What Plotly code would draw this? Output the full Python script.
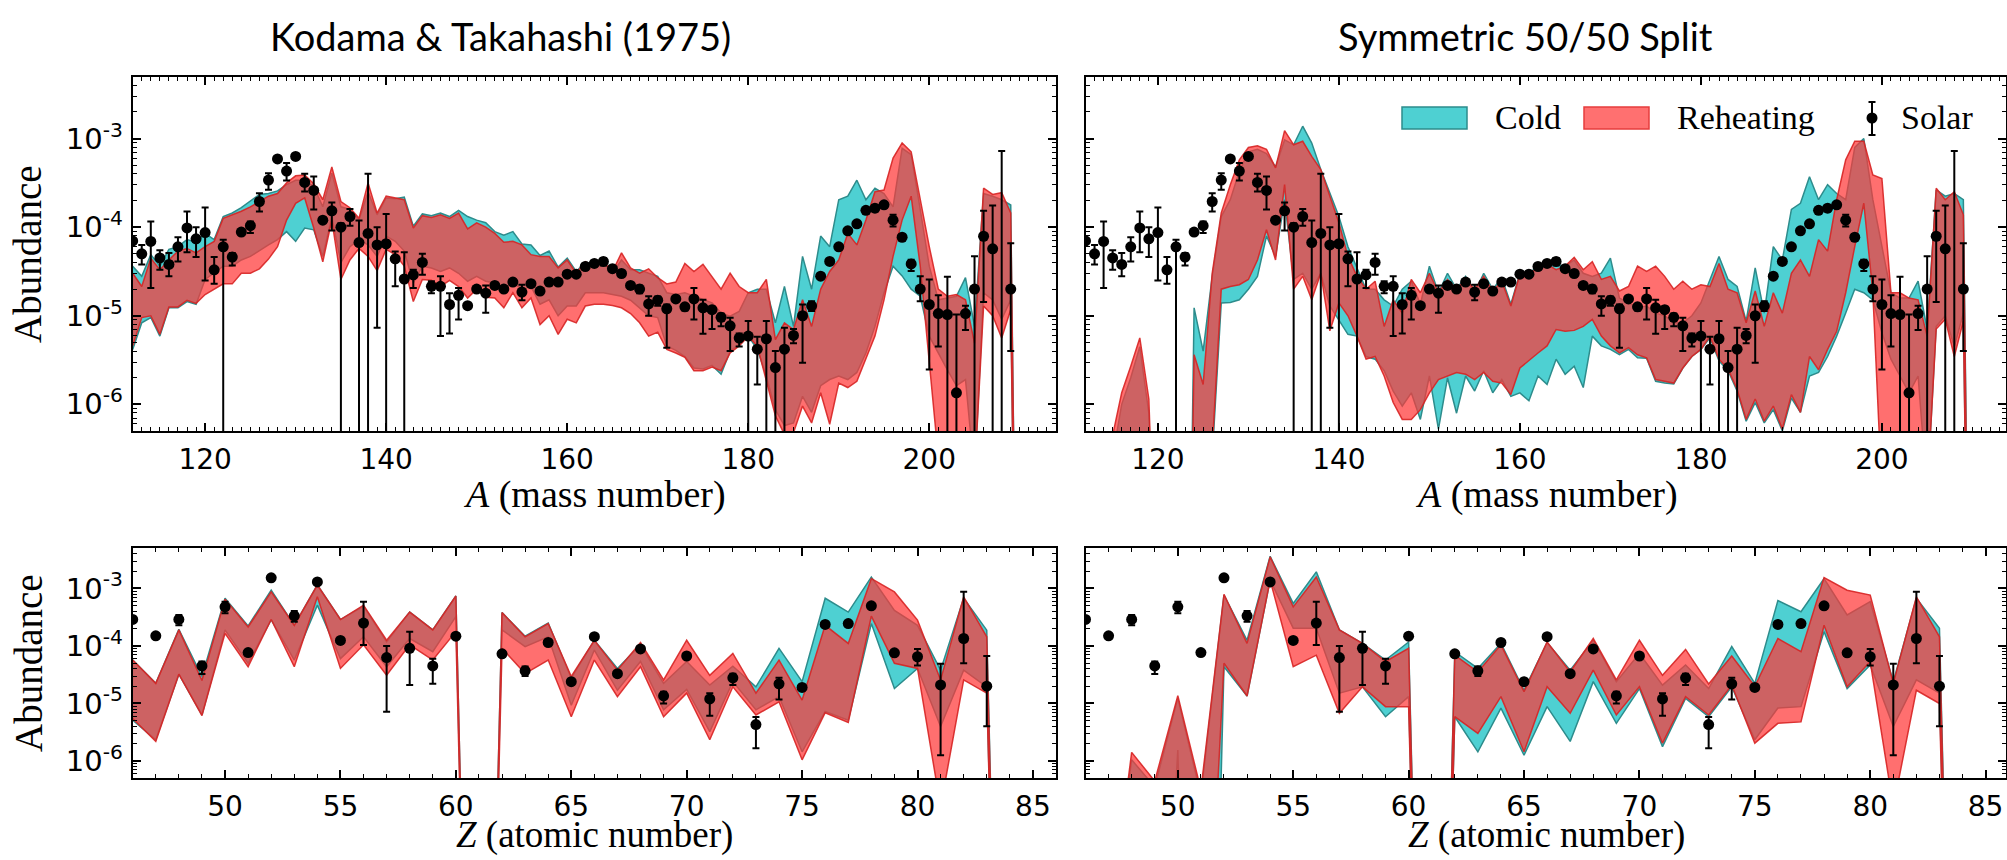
import numpy as np
import plotly.graph_objects as go

# ---------------- data ----------------
mass_A = list(range(112, 211))          # band grid (210 closes the band to zero)
solar_A = list(range(112, 210))
atomic_Z = list(range(46, 85))          # band grid (61 and 84 are empty -> zero)
solar_Z = [46, 47, 48, 49, 50, 51, 52, 53, 54, 55, 56, 57, 58, 59, 60,
           62, 63, 64, 65, 66, 67, 68, 69, 70, 71, 72, 73, 74, 75, 76, 77, 78, 79, 80, 81, 82, 83]

# log10 abundances of the model bands (upper / lower bounds), "Kodama & Takahashi" top panel
kt_A_reheat_hi = [-4.52, -4.67, -4.35, -4.48, -4.37, -4.27, -4.24, -4.29, -4.22, -4.16,
                  -3.90, -3.86, -3.82, -3.77, -3.71, -3.65, -3.62, -3.50, -3.42, -3.41,
                  -3.51, -3.69, -3.32, -3.71, -3.78, -3.90, -3.50, -3.84, -3.65, -3.67,
                  -3.69, -4.01, -3.87, -3.89, -3.86, -3.90, -3.84, -4.02, -3.95, -4.00,
                  -4.07, -4.17, -4.16, -4.20, -4.31, -4.33, -4.33, -4.46, -4.37, -4.52,
                  -4.39, -4.44, -4.39, -4.50, -4.29, -4.46, -4.52, -4.47, -4.57, -4.64,
                  -4.62, -4.41, -4.50, -4.42, -4.555, -4.70, -4.52, -4.67, -4.74, -4.74,
                  -4.59, -5.27, -5.08, -5.155, -4.82, -5.12, -4.70, -4.50, -4.37, -4.07,
                  -4.20, -3.92, -3.60, -3.58, -3.22, -3.05, -3.15, -3.69, -4.22, -4.70,
                  -4.78, -4.76, -4.82, -5.31, -3.56, -3.63, -3.61, -3.84, -12]
kt_A_reheat_lo = [-5.34, -5.02, -5.00, -5.21, -4.90, -4.90, -4.825, -4.86, -4.76, -4.70,
                  -4.64, -4.64, -4.52, -4.52, -4.47, -4.36, -4.22, -3.92, -3.73, -3.67,
                  -4.01, -4.39, -3.92, -4.59, -4.37, -4.24, -4.33, -4.49, -4.25, -4.31,
                  -4.44, -4.84, -4.59, -4.60, -4.67, -4.60, -4.67, -4.80, -4.70, -4.79,
                  -4.80, -4.91, -4.74, -4.91, -4.80, -5.10, -5.00, -5.21, -5.04, -5.08,
                  -4.89, -4.87, -4.87, -4.885, -4.91, -4.975, -5.08, -5.23, -5.185, -5.38,
                  -5.42, -5.47, -5.62, -5.62, -5.58, -5.62, -5.42, -5.34, -5.23, -5.34,
                  -5.72, -6.13, -6.34, -6.32, -6.02, -6.21, -5.87, -6.225, -5.76, -5.81,
                  -5.74, -5.49, -5.23, -4.82, -4.33, -3.92, -3.65, -4.44, -5.49, -6.6,
                  -6.8, -6.8, -6.8, -6.8, -4.89, -5.00, -5.25, -4.93, -12]
kt_A_cold_hi = [-4.44, -4.555, -4.31, -4.44, -4.25, -4.22, -4.14, -4.17, -4.07, -4.14,
                -3.88, -3.84, -3.78, -3.71, -3.63, -3.62, -3.59, -3.52, -3.47, -3.47,
                -3.54, -3.77, -3.39, -3.77, -3.80, -3.92, -3.60, -3.86, -3.67, -3.68,
                -3.66, -3.99, -3.85, -3.87, -3.84, -3.88, -3.81, -3.88, -3.92, -3.95,
                -4.05, -4.09, -4.05, -4.19, -4.20, -4.32, -4.27, -4.45, -4.35, -4.50,
                -4.39, -4.42, -4.40, -4.52, -4.37, -4.48, -4.48, -4.52, -4.555, -4.74,
                -4.76, -4.74, -4.78, -4.82, -4.855, -4.97, -5.005, -4.95, -4.74, -4.70,
                -4.70, -5.08, -4.67, -5.12, -4.33, -4.70, -4.10, -4.22, -3.69, -3.65,
                -3.47, -3.69, -3.56, -3.62, -3.77, -3.11, -3.18, -3.80, -4.44, -4.82,
                -4.80, -4.78, -4.57, -5.12, -3.62, -3.65, -3.69, -3.75, -12]
kt_A_cold_lo = [-5.38, -5.08, -5.02, -5.23, -4.91, -4.91, -4.84, -4.87, -4.59, -4.52,
                -4.44, -4.44, -4.37, -4.33, -4.27, -4.20, -4.14, -4.05, -4.16, -4.01,
                -4.03, -4.33, -3.88, -4.40, -4.22, -4.14, -4.20, -4.33, -4.10, -4.16,
                -4.27, -4.63, -4.44, -4.46, -4.50, -4.46, -4.52, -4.61, -4.555, -4.61,
                -4.63, -4.70, -4.63, -4.70, -4.67, -4.87, -4.82, -5.00, -4.89, -4.89,
                -4.74, -4.74, -4.74, -4.76, -4.78, -4.825, -4.91, -5.00, -5.02, -5.34,
                -5.39, -5.46, -5.59, -5.60, -5.56, -5.66, -5.40, -5.32, -5.23, -5.38,
                -5.68, -6.06, -6.24, -6.21, -5.91, -6.09, -5.79, -5.72, -5.68, -5.72,
                -5.64, -5.42, -5.12, -4.74, -4.44, -4.55, -4.70, -4.78, -5.23, -5.42,
                -5.61, -5.79, -5.72, -6.8, -4.74, -4.82, -5.04, -4.82, -12]

# "Symmetric 50/50 Split" top panel
sym_A_reheat_hi = [-12, -12, -12, -6.35, -5.87, -5.57, -5.25, -5.94, -12, -12,
                   -12, -12, -5.44, -5.775, -4.52, -3.84, -3.52, -3.24, -3.10, -3.08,
                   -3.12, -3.33, -2.91, -3.07, -3.03, -3.20, -3.35, -3.65, -3.95, -4.33,
                   -4.555, -4.70, -4.61, -5.12, -4.82, -4.97, -4.59, -4.74, -4.52, -4.74,
                   -4.59, -4.70, -4.59, -4.70, -4.555, -4.72, -4.61, -4.89, -4.53, -4.555,
                   -4.44, -4.42, -4.48, -4.44, -4.34, -4.48, -4.39, -4.59, -4.555, -4.72,
                   -4.67, -4.44, -4.50, -4.44, -4.555, -4.70, -4.61, -4.70, -4.65, -4.67,
                   -4.41, -4.70, -4.74, -5.08, -4.72, -5.12, -4.74, -4.97, -4.52, -4.37,
                   -4.555, -4.14, -4.27, -3.69, -3.24, -3.03, -3.03, -3.41, -3.45, -4.74,
                   -4.74, -4.80, -4.82, -5.23, -3.56, -3.69, -3.60, -3.86, -12]
sym_A_reheat_lo = [-12, -12, -12, -12, -12, -12, -12, -12, -12, -12,
                   -12, -12, -12, -12, -6.5, -4.70, -4.67, -4.65, -4.59, -4.37,
                   -4.03, -4.37, -3.52, -4.70, -4.555, -4.82, -4.52, -5.17, -4.855, -5.00,
                   -5.23, -5.49, -5.46, -5.68, -5.98, -6.17, -6.17, -6.06, -5.87, -5.72,
                   -5.68, -5.64, -5.66, -5.72, -5.64, -5.74, -5.76, -5.89, -5.59, -5.51,
                   -5.42, -5.34, -5.155, -5.175, -5.165, -5.12, -5.04, -5.23, -5.34, -5.42,
                   -5.36, -5.44, -5.475, -5.72, -5.74, -5.76, -5.59, -5.46, -5.38, -5.23,
                   -5.49, -5.60, -5.83, -6.17, -5.94, -6.19, -6.02, -6.28, -5.89, -6.09,
                   -5.46, -5.61, -5.38, -5.175, -4.74, -4.22, -3.73, -4.74, -7.0, -7.0,
                   -7.0, -7.0, -7.0, -7.0, -5.15, -5.04, -5.46, -5.06, -12]
sym_A_cold_hi = [-12, -12, -12, -6.6, -6.0, -5.7, -5.35, -6.1, -12, -12,
                 -12, -12, -4.91, -5.40, -4.555, -3.88, -3.69, -3.37, -3.15, -3.12,
                 -3.17, -3.32, -3.015, -3.07, -2.86, -3.05, -3.35, -3.62, -3.88, -4.22,
                 -4.46, -4.70, -4.70, -4.82, -4.89, -4.70, -4.61, -4.87, -4.44, -4.74,
                 -4.52, -4.70, -4.555, -4.74, -4.52, -4.70, -4.57, -4.87, -4.52, -4.52,
                 -4.44, -4.40, -4.42, -4.44, -4.37, -4.52, -4.555, -4.52, -4.35, -4.80,
                 -4.855, -4.91, -4.89, -4.97, -5.00, -5.08, -5.08, -5.00, -4.855, -4.59,
                 -4.33, -4.59, -4.67, -5.06, -4.46, -4.97, -4.22, -4.37, -3.80, -3.73,
                 -3.43, -3.69, -3.52, -3.62, -3.69, -3.10, -3.00, -3.69, -4.22, -4.74,
                 -4.80, -4.80, -4.61, -5.155, -3.58, -3.65, -3.62, -3.69, -12]
sym_A_cold_lo = [-12, -12, -12, -12, -12, -12, -12, -12, -12, -12,
                 -12, -12, -12, -12, -6.6, -4.855, -4.85, -4.82, -4.70, -4.555,
                 -4.10, -4.33, -3.69, -4.59, -4.52, -4.70, -4.52, -4.89, -5.05, -5.21,
                 -5.23, -5.46, -5.49, -5.62, -5.85, -6.02, -5.87, -6.17, -5.68, -6.28,
                 -5.70, -6.10, -5.68, -5.85, -5.62, -5.87, -5.72, -5.91, -5.87, -5.96,
                 -5.68, -5.775, -5.49, -5.66, -5.57, -5.81, -5.23, -5.34, -5.38, -5.44,
                 -5.38, -5.475, -5.48, -5.74, -5.76, -5.77, -5.59, -5.46, -5.38, -5.25,
                 -5.51, -5.62, -5.85, -6.19, -5.98, -6.21, -6.06, -6.30, -5.93, -6.09,
                 -5.68, -5.64, -5.46, -5.23, -4.97, -4.70, -4.74, -4.82, -5.19, -5.49,
                 -5.68, -5.87, -5.68, -7.0, -5.12, -5.00, -5.35, -4.97, -12]

# bottom panels (atomic number)
kt_Z_reheat_hi = [-4.245, -4.65, -3.72, -4.60, -3.185, -3.67, -3.06, -3.64, -2.94, -3.54,
                  -3.29, -3.90, -3.41, -3.72, -3.13, -20, -3.42, -3.84, -3.61, -4.53,
                  -3.90, -4.42, -3.94, -4.59, -3.90, -4.51, -4.13, -4.82, -4.245, -4.94,
                  -3.64, -3.955, -2.83, -3.06, -3.55, -4.59, -3.145, -3.84, -20]
kt_Z_reheat_lo = [-5.26, -5.66, -4.49, -5.21, -3.78, -4.36, -3.54, -4.36, -3.145, -4.39,
                  -3.98, -4.51, -3.98, -4.245, -3.75, -20, -4.04, -4.48, -4.245, -5.23,
                  -4.245, -4.88, -4.36, -5.23, -4.82, -5.63, -4.71, -5.20, -4.97, -5.98,
                  -5.16, -5.33, -3.48, -4.30, -4.39, -6.8, -4.59, -4.82, -20]
kt_Z_cold_hi = [-4.245, -4.65, -3.71, -4.53, -3.17, -3.65, -3.03, -3.64, -2.94, -3.54,
                -3.31, -3.93, -3.41, -3.72, -3.13, -20, -3.42, -3.83, -3.60, -4.56,
                -3.90, -4.39, -3.98, -4.65, -4.27, -4.68, -4.35, -4.71, -4.04, -4.62,
                -3.17, -3.41, -2.80, -3.38, -3.64, -4.42, -3.17, -3.725, -20]
kt_Z_cold_lo = [-5.29, -5.63, -4.49, -5.20, -3.72, -4.30, -3.54, -4.245, -3.29, -4.22,
                -3.84, -4.36, -3.87, -4.10, -3.49, -20, -3.72, -4.01, -3.84, -5.03,
                -4.07, -4.77, -4.27, -5.11, -4.755, -5.49, -4.62, -5.11, -4.88, -5.84,
                -5.14, -5.29, -3.61, -4.74, -4.39, -5.40, -4.42, -4.71, -20]

sym_Z_reheat_hi = [-20, -9, -5.85, -6.35, -4.865, -6.5, -3.10, -3.955, -2.45, -3.32,
                   -2.80, -3.72, -3.955, -4.27, -4.04, -20, -4.16, -4.45, -3.98, -4.795,
                   -3.93, -4.45, -3.87, -4.59, -3.90, -4.51, -4.06, -4.66, -4.175, -4.70,
                   -3.87, -4.10, -2.81, -3.03, -3.115, -4.65, -3.145, -3.84, -20]
sym_Z_reheat_lo = [-20, -20, -20, -20, -20, -20, -4.30, -4.87, -2.855, -4.36,
                   -4.16, -5.17, -4.71, -5.055, -5.055, -20, -5.23, -5.52, -4.88, -5.84,
                   -4.71, -5.17, -4.42, -5.20, -4.71, -5.69, -4.88, -5.20, -4.68, -5.69,
                   -5.345, -5.32, -3.64, -4.71, -4.27, -6.8, -4.77, -5.00, -20]
sym_Z_cold_hi = [-20, -9, -5.98, -6.45, -4.91, -6.6, -3.115, -3.90, -2.44, -3.26,
                 -2.71, -3.72, -3.955, -4.245, -3.93, -20, -4.10, -4.39, -3.955, -4.77,
                 -3.94, -4.42, -3.90, -4.62, -4.13, -4.68, -4.33, -4.74, -4.01, -4.65,
                 -3.21, -3.405, -2.83, -3.46, -3.23, -4.62, -3.17, -3.69, -20]
sym_Z_cold_lo = [-20, -20, -20, -20, -5.81, -20, -4.36, -4.87, -2.855, -3.69,
                 -3.69, -4.82, -4.71, -5.23, -4.88, -20, -5.23, -5.84, -5.08, -5.90,
                 -5.055, -5.66, -4.62, -5.345, -4.74, -5.75, -4.91, -5.23, -4.71, -5.63,
                 -5.08, -5.055, -3.75, -4.74, -4.33, -5.40, -4.59, -4.82, -20]

# solar abundances (value, upper end of error bar, lower end; 0 = bar reaches zero)
solar_A_val = [7.0e-5, 5.0e-5, 6.9e-5, 4.5e-5, 3.8e-5, 6.0e-5, 9.8e-5, 7.4e-5, 8.7e-5, 3.3e-5,
               6.0e-5, 4.6e-5, 8.8e-5, 1.04e-4, 1.95e-4, 3.4e-4, 5.9e-4, 4.3e-4, 6.3e-4, 3.2e-4,
               2.6e-4, 1.2e-4, 1.53e-4, 1.0e-4, 1.32e-4, 6.7e-5, 8.5e-5, 6.3e-5, 6.5e-5, 4.4e-5,
               2.6e-5, 2.9e-5, 4.0e-5, 2.15e-5, 2.15e-5, 1.34e-5, 1.7e-5, 1.3e-5, 2.0e-5, 1.8e-5,
               2.2e-5, 2.0e-5, 2.4e-5, 1.85e-5, 2.3e-5, 1.9e-5, 2.4e-5, 2.4e-5, 2.95e-5, 2.95e-5,
               3.6e-5, 3.9e-5, 4.1e-5, 3.4e-5, 3.0e-5, 2.2e-5, 2.0e-5, 1.36e-5, 1.5e-5, 1.2e-5,
               1.55e-5, 1.26e-5, 1.55e-5, 1.23e-5, 1.17e-5, 9.6e-6, 7.7e-6, 5.6e-6, 5.9e-6, 4.2e-6,
               5.5e-6, 2.6e-6, 4.2e-6, 6.0e-6, 1.0e-5, 1.29e-5, 2.8e-5, 4.1e-5, 6.0e-5, 9.1e-5,
               1.09e-4, 1.55e-4, 1.64e-4, 1.79e-4, 1.2e-4, 7.7e-5, 3.85e-5, 2.0e-5, 1.34e-5, 1.06e-5,
               1.03e-5, 1.35e-6, 1.06e-5, 2.0e-5, 7.9e-5, 5.7e-5, 3.0e-7, 2.0e-5]
solar_A_hi = [7.0e-5, 6.3e-5, 1.16e-4, 5.5e-5, 5.1e-5, 7.7e-5, 1.5e-4, 1.0e-4, 1.67e-4, 4.6e-5,
              7.2e-5, 5.1e-5, 8.8e-5, 1.16e-4, 2.42e-4, 4.07e-4, 5.9e-4, 5.3e-4, 6.3e-4, 4.0e-4,
              3.73e-4, 1.2e-4, 1.9e-4, 1.11e-4, 1.6e-4, 1.19e-4, 4.0e-4, 1.0e-4, 1.41e-4, 5.3e-5,
              5.2e-5, 3.3e-5, 5.0e-5, 2.45e-5, 2.8e-5, 1.8e-5, 2.06e-5, 1.3e-5, 2.0e-5, 2.2e-5,
              2.2e-5, 2.0e-5, 2.4e-5, 2.24e-5, 2.3e-5, 1.9e-5, 2.6e-5, 2.4e-5, 2.95e-5, 2.95e-5,
              3.6e-5, 3.9e-5, 4.5e-5, 3.4e-5, 3.0e-5, 2.2e-5, 2.2e-5, 1.66e-5, 1.65e-5, 1.34e-5,
              1.55e-5, 1.35e-5, 2.06e-5, 1.52e-5, 1.26e-5, 1.06e-5, 9.5e-6, 6.3e-6, 8.7e-6, 5.8e-6,
              8.7e-6, 4.0e-6, 7.3e-6, 7.1e-6, 1.34e-5, 1.46e-5, 2.8e-5, 4.1e-5, 6.0e-5, 9.1e-5,
              1.09e-4, 1.55e-4, 1.75e-4, 1.79e-4, 1.38e-4, 7.7e-5, 4.3e-5, 2.8e-5, 2.56e-5, 1.7e-5,
              2.75e-5, 1.03e-5, 1.3e-5, 4.7e-5, 1.53e-4, 1.76e-4, 7.26e-4, 6.6e-5]
solar_A_lo = [7.0e-5, 3.8e-5, 2.06e-5, 3.3e-5, 2.8e-5, 4.1e-5, 5.2e-5, 4.6e-5, 2.5e-5, 2.3e-5,
              0, 3.7e-5, 8.8e-5, 8.6e-5, 1.5e-4, 2.64e-4, 5.9e-4, 3.37e-4, 6.3e-4, 2.53e-4,
              1.58e-4, 1.2e-4, 9.2e-5, 0, 1.04e-4, 0, 0, 7.3e-6, 0, 2.15e-5,
              0, 2.06e-5, 2.9e-5, 1.8e-5, 5.9e-6, 6.3e-6, 9.1e-6, 1.3e-5, 2.0e-5, 1.08e-5,
              2.2e-5, 2.0e-5, 2.4e-5, 1.5e-5, 2.3e-5, 1.9e-5, 2.2e-5, 2.4e-5, 2.95e-5, 2.95e-5,
              3.6e-5, 3.9e-5, 3.7e-5, 3.4e-5, 3.0e-5, 2.2e-5, 1.8e-5, 1.0e-5, 1.3e-5, 4.35e-6,
              1.55e-5, 1.15e-5, 9.1e-6, 6.25e-6, 7.1e-6, 7.6e-6, 4.0e-6, 4.5e-6, 0, 1.68e-6,
              0, 0, 0, 4.9e-6, 2.95e-6, 1.13e-5, 2.8e-5, 4.1e-5, 6.0e-5, 9.1e-5,
              1.09e-4, 1.55e-4, 1.5e-4, 1.79e-4, 1.02e-4, 7.7e-5, 3.2e-5, 1.46e-5, 2.48e-6, 4.5e-6,
              0, 0, 6.9e-6, 0, 1.43e-5, 0, 0, 4.0e-6]

solar_Z_val = [2.9e-4, 1.5e-4, 2.9e-4, 4.5e-5, 4.8e-4, 7.7e-5, 1.53e-3, 3.35e-4, 1.3e-3, 1.25e-4,
               2.5e-4, 6.3e-5, 9.1e-5, 4.5e-5, 1.48e-4,
               7.3e-5, 3.7e-5, 1.15e-4, 2.4e-5, 1.45e-4, 3.3e-5, 8.9e-5, 1.36e-5, 6.7e-5, 1.2e-5,
               2.8e-5, 4.3e-6, 2.2e-5, 1.9e-5, 2.37e-4, 2.45e-4, 5.0e-4, 7.6e-5, 6.5e-5, 2.1e-5,
               1.35e-4, 2.0e-5]
solar_Z_hi = [2.9e-4, 1.5e-4, 3.45e-4, 5.4e-5, 5.9e-4, 7.7e-5, 1.53e-3, 4.05e-4, 1.3e-3, 1.25e-4,
              5.9e-4, 1.0e-4, 1.77e-4, 6.0e-5, 1.48e-4,
              7.3e-5, 4.4e-5, 1.15e-4, 2.4e-5, 1.45e-4, 3.3e-5, 8.9e-5, 1.6e-5, 6.7e-5, 1.5e-5,
              3.3e-5, 5.8e-6, 2.8e-5, 1.9e-5, 2.37e-4, 2.45e-4, 5.0e-4, 7.6e-5, 8.9e-5, 4.9e-5,
              8.8e-4, 6.7e-5]
solar_Z_lo = [2.9e-4, 1.5e-4, 2.3e-4, 3.25e-5, 3.7e-4, 7.7e-5, 1.53e-3, 2.63e-4, 1.3e-3, 1.25e-4,
              1.04e-4, 7.2e-6, 2.1e-5, 2.2e-5, 1.48e-4,
              7.3e-5, 3.0e-5, 1.15e-4, 2.4e-5, 1.45e-4, 3.3e-5, 8.9e-5, 1.0e-5, 6.7e-5, 6.1e-6,
              2.1e-5, 1.66e-6, 1.17e-5, 1.9e-5, 2.37e-4, 2.45e-4, 5.0e-4, 7.6e-5, 4.6e-5, 1.26e-6,
              5.0e-5, 4.0e-6]

panel_titles = ["Kodama & Takahashi (1975)", "Symmetric 50/50 Split"]
legend_labels = ["Cold", "Reheating", "Solar"]
y_tickvals = [1e-6, 1e-5, 1e-4, 1e-3]
y_ticktext = ["10<sup>-6</sup>", "10<sup>-5</sup>", "10<sup>-4</sup>", "10<sup>-3</sup>"]
A_ticks = [120, 140, 160, 180, 200]
Z_ticks = [50, 55, 60, 65, 70, 75, 80, 85]

# ---------------- style ----------------
W, H = 2007, 860
CYAN_FILL = "rgb(78,208,210)"
CYAN_LINE = "rgb(45,140,140)"
RED_FILL = "rgba(255,56,56,0.72)"
RED_LINE = "rgba(215,35,35,0.9)"
SERIF = "Liberation Serif"


def px(x):
    return x / W


def py(y):
    return 1 - y / H


def band(x, hi, lo, fill, line, xa, ya):
    xs = list(x) + list(x)[::-1]
    ys = list(10.0 ** np.array(hi)) + list(10.0 ** np.array(lo))[::-1]
    return go.Scatter(x=xs, y=ys, fill="toself", fillcolor=fill, mode="lines",
                      line=dict(color=line, width=1.5), xaxis=xa, yaxis=ya,
                      hoverinfo="skip", showlegend=False)


def solar(x, val, hi, lo, xa, ya):
    val = np.array(val)
    plus = np.array(hi) - val
    minus = val - np.array(lo)
    return go.Scatter(x=x, y=val, mode="markers", marker=dict(color="black", size=11),
                      error_y=dict(type="data", array=plus, arrayminus=minus, color="black",
                                   thickness=2, width=3.5, visible=True),
                      xaxis=xa, yaxis=ya, showlegend=False)


fig = go.Figure()
panels = [
    ("x", "y", mass_A, kt_A_cold_hi, kt_A_cold_lo, kt_A_reheat_hi, kt_A_reheat_lo, solar_A, solar_A_val, solar_A_hi, solar_A_lo),
    ("x2", "y2", mass_A, sym_A_cold_hi, sym_A_cold_lo, sym_A_reheat_hi, sym_A_reheat_lo, solar_A, solar_A_val, solar_A_hi, solar_A_lo),
    ("x3", "y3", atomic_Z, kt_Z_cold_hi, kt_Z_cold_lo, kt_Z_reheat_hi, kt_Z_reheat_lo, solar_Z, solar_Z_val, solar_Z_hi, solar_Z_lo),
    ("x4", "y4", atomic_Z, sym_Z_cold_hi, sym_Z_cold_lo, sym_Z_reheat_hi, sym_Z_reheat_lo, solar_Z, solar_Z_val, solar_Z_hi, solar_Z_lo),
]
for xa, ya, xg, chi, clo, rhi, rlo, sx, sv, sh, sl in panels:
    fig.add_trace(band(xg, chi, clo, CYAN_FILL, CYAN_LINE, xa, ya))
    fig.add_trace(band(xg, rhi, rlo, RED_FILL, RED_LINE, xa, ya))
    fig.add_trace(solar(sx, sv, sh, sl, xa, ya))

tickfont = dict(family="DejaVu Sans", size=28, color="black")
minor_y = [k * 10.0 ** e for e in range(-7, -2) for k in range(2, 10)]


def xaxis(domain, rng, ticks, anchor, minor_step):
    return dict(domain=domain, range=rng, anchor=anchor, tickmode="array", tickvals=ticks,
                showline=True, linecolor="black", linewidth=2, mirror="allticks",
                ticks="inside", ticklen=8, tickwidth=1.5, tickcolor="black",
                showgrid=False, zeroline=False, tickfont=tickfont, ticklabelstandoff=2,
                minor=dict(ticks="inside", ticklen=4, tickwidth=1.2, tickcolor="black",
                           dtick=minor_step, tick0=0, showgrid=False))


def yaxis(domain, anchor, labels):
    return dict(domain=domain, type="log", range=[np.log10(5e-7), np.log10(5e-3)], anchor=anchor,
                tickmode="array", tickvals=y_tickvals, ticktext=y_ticktext, showticklabels=labels,
                showline=True, linecolor="black", linewidth=2, mirror="allticks",
                ticks="inside", ticklen=8, tickwidth=1.5, tickcolor="black",
                showgrid=False, zeroline=False, tickfont=dict(family="DejaVu Sans", size=29, color="black"),
                ticklabelstandoff=2,
                minor=dict(ticks="inside", ticklen=4, tickwidth=1.2, tickcolor="black",
                           tickmode="array", tickvals=minor_y, showgrid=False))


top_dom = [py(431), py(76.7)]
bot_dom = [py(778.3), py(548.3)]
L_dom = [px(132.7), px(1056)]
R_dom = [px(1085.5), px(2005.5)]
A_right_max = 112 + (2005.5 - 1085.5) / 9.05
Z_right_max = 46 + (2005.5 - 1085.5) / 23.08

fig.update_layout(
    width=W, height=H, margin=dict(l=0, r=0, t=0, b=0),
    paper_bgcolor="white", plot_bgcolor="white", showlegend=False,
    xaxis=xaxis(L_dom, [112, 214], A_ticks, "y", 1),
    yaxis=yaxis(top_dom, "x", True),
    xaxis2=xaxis(R_dom, [112, A_right_max], A_ticks, "y2", 1),
    yaxis2=yaxis(top_dom, "x2", False),
    xaxis3=xaxis(L_dom, [46, 86], Z_ticks, "y3", 1),
    yaxis3=yaxis(bot_dom, "x3", True),
    xaxis4=xaxis(R_dom, [46, Z_right_max], Z_ticks, "y4", 1),
    yaxis4=yaxis(bot_dom, "x4", False),
)


def label(text, x, y, size, family, xanchor="center", angle=0):
    return dict(text=text, x=px(x), y=py(y), xref="paper", yref="paper", xanchor=xanchor,
                yanchor="middle", textangle=angle, showarrow=False,
                font=dict(family=family, size=size, color="black"))


ann = []
# panel titles
ann.append(label(panel_titles[0], 500, 36, 38, "Lato"))
ann.append(label(panel_titles[1], 1525, 36, 38, "Lato"))
# axis titles
for cx in [594, 1546]:
    ann.append(label("<i>A</i> (mass number)", cx, 494, 38, SERIF))
    ann.append(label("<i>Z</i> (atomic number)", cx, 835, 37, SERIF))
for cy in [254, 663]:
    ann.append(label("Abundance", 28, cy, 39, SERIF, angle=-90))

# legend (top-right panel)
shapes = []
shapes.append(dict(type="rect", xref="paper", yref="paper", x0=px(1402), x1=px(1467), y0=py(129), y1=py(107),
                   fillcolor=CYAN_FILL, line=dict(color=CYAN_LINE, width=1.5)))
shapes.append(dict(type="rect", xref="paper", yref="paper", x0=px(1584), x1=px(1649), y0=py(129), y1=py(107),
                   fillcolor="rgb(255,112,112)", line=dict(color="rgb(230,60,60)", width=1.5)))
shapes.append(dict(type="line", xref="paper", yref="paper", x0=px(1872), x1=px(1872), y0=py(135), y1=py(102),
                   line=dict(color="black", width=2)))
for yy in [102, 135]:
    shapes.append(dict(type="line", xref="paper", yref="paper", x0=px(1868.5), x1=px(1875.5), y0=py(yy), y1=py(yy),
                       line=dict(color="black", width=2)))
shapes.append(dict(type="circle", xref="paper", yref="paper", x0=px(1866.5), x1=px(1877.5), y0=py(123.5), y1=py(112.5),
                   fillcolor="black", line=dict(color="black", width=0)))
for lx, lab in zip([1493, 1675, 1899], legend_labels):
    ann.append(label(lab, lx, 118, 34, SERIF, xanchor="left"))

fig.update_layout(annotations=ann, shapes=shapes)
fig.write_html("out.html")
